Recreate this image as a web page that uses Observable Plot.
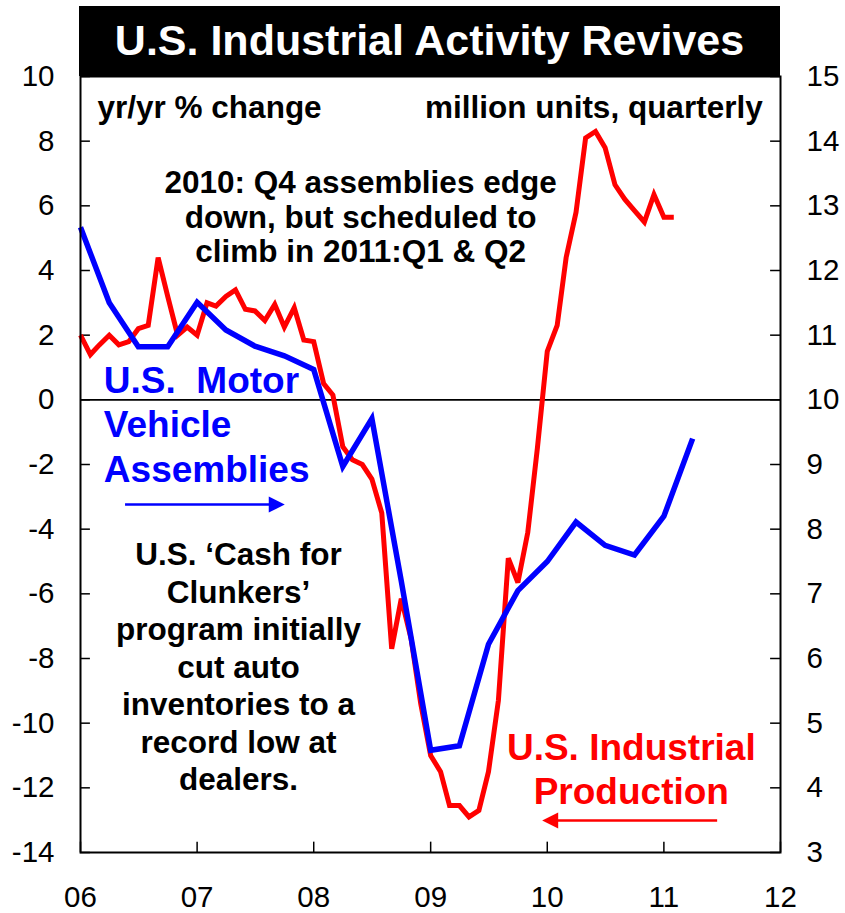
<!DOCTYPE html>
<html>
<head>
<meta charset="utf-8">
<script src="https://cdn.jsdelivr.net/npm/d3@7"></script>
<script src="https://cdn.jsdelivr.net/npm/@observablehq/plot@0.6"></script>
<style>
  body { margin: 0; background: #fff; }
  #wrap { position: relative; width: 845px; height: 913px; background: #fff; }
  #title {
    position: absolute; left: 79px; top: 6px; width: 701px; height: 70px;
    background: #000; color: #fff; text-align: center;
    font: bold 43px "Liberation Sans", Arial, Helvetica, sans-serif; line-height: 68px; z-index: 2;
  }
  #chart { position: absolute; left: 0; top: 0; }
</style>
</head>
<body>
<div id="wrap">
  <div id="chart"></div>
  <div id="title">U.S. Industrial Activity Revives</div>
</div>
<script>
// ---------- data ----------
// U.S. Industrial Production, yr/yr % change, monthly from Jan 2006 (left axis)
const ipStart = [2006, 0];
const ipValues = [
  2.0, 1.4, 1.7, 2.0, 1.7, 1.8, 2.2, 2.3, 4.4, 3.2, 2.0, 2.25,      // 2006
  2.0, 3.0, 2.9, 3.2, 3.4, 2.8, 2.75, 2.45, 2.95, 2.25, 2.85, 1.85, // 2007
  1.8, 0.5, 0.15, -1.45, -1.85, -2.0, -2.45, -3.5, -7.7, -6.15, -7.4, -9.4, // 2008
  -11.0, -11.5, -12.55, -12.55, -12.9, -12.7, -11.5, -9.3, -4.9, -5.65, -4.1, -1.5, // 2009
  1.5, 2.3, 4.4, 5.8, 8.1, 8.3, 7.8, 6.65, 6.2, 5.85, 5.5, 6.35,   // 2010
  5.65, 5.65                                                       // 2011
];
// U.S. Motor Vehicle Assemblies, million units, quarterly from 2006:Q1 (right axis)
const mvStart = [2006, 0];
const mvValues = [
  12.67, 11.5, 10.82, 10.82,   // 2006
  11.51, 11.08, 10.83, 10.68,  // 2007
  10.47, 8.97, 9.71, 7.2,      // 2008
  4.58, 4.65, 6.22, 7.05,      // 2009
  7.5, 8.11, 7.75, 7.6,        // 2010
  8.2, 9.4                     // 2011
];
const leftTicks = [-14, -12, -10, -8, -6, -4, -2, 0, 2, 4, 6, 8, 10];
const rightTicks = [3, 4, 5, 6, 7, 8, 9, 10, 11, 12, 13, 14, 15];
const yearTicks = [2006, 2007, 2008, 2009, 2010, 2011, 2012];

// ---------- helpers ----------
const D = (y, m = 0, d = 1) => new Date(Date.UTC(y, m, d));
const at = (yf) => new Date(Date.UTC(2006, 0, 1) + (yf - 2006) * 365.25 * 864e5);
const rightToLeft = (r) => (r - 10) * 2;   // right axis 3..15  ->  left axis -14..10
const fmt = (d) => (d < 0 ? "-" + (-d) : String(d));

const ip = ipValues.map((v, i) => ({date: D(ipStart[0], ipStart[1] + i), v}));
const mv = mvValues.map((v, i) => ({date: D(mvStart[0], mvStart[1] + 3 * i), v}));

// filled triangle arrowheads as custom symbols
const triRight = {draw(ctx, size) { const r = Math.sqrt(size / Math.PI); ctx.moveTo(r, 0); ctx.lineTo(-r, -r); ctx.lineTo(-r, r); ctx.closePath(); }};
const triLeft  = {draw(ctx, size) { const r = Math.sqrt(size / Math.PI); ctx.moveTo(-r, 0); ctx.lineTo(r, -r); ctx.lineTo(r, r); ctx.closePath(); }};

const FONT = "Liberation Sans, Arial, Helvetica, sans-serif";
const RED = "#ff0000", BLUE = "#0000ff";
const ANN = 31.5;

const chart = Plot.plot({
  width: 845, height: 913,
  marginLeft: 80, marginRight: 65, marginTop: 76, marginBottom: 61,
  style: {fontFamily: FONT, background: "transparent", color: "black"},
  x: {type: "utc", domain: [D(2006), D(2012)], axis: null},
  y: {domain: [-14, 10], axis: null},
  marks: [
    // zero line
    Plot.ruleY([0], {stroke: "black", strokeWidth: 1.6}),
    // inside ticks
    Plot.ruleY(leftTicks, {x1: D(2006, 0, 1), x2: D(2006, 1, 1), stroke: "black", strokeWidth: 1.5}),
    Plot.ruleY(rightTicks.map(rightToLeft), {x1: D(2011, 11, 1), x2: D(2012, 0, 1), stroke: "black", strokeWidth: 1.5}),
    Plot.ruleX(yearTicks.map(y => D(y)), {y1: -14, y2: -13.68, stroke: "black", strokeWidth: 1.5}),
    // series
    Plot.line(ip, {x: "date", y: "v", stroke: RED, strokeWidth: 5, strokeLinejoin: "miter", strokeLinecap: "butt", strokeMiterlimit: 3}),
    Plot.line(mv, {x: "date", y: d => rightToLeft(d.v), stroke: BLUE, strokeWidth: 5.5, strokeLinejoin: "miter", strokeLinecap: "butt", strokeMiterlimit: 3}),
    Plot.frame({stroke: "black", strokeWidth: 2}),
    // axes labels
    Plot.axisY(leftTicks, {anchor: "left", tickSize: 0, tickPadding: 26, fontSize: 29.5, tickFormat: fmt, label: null, fontFamily: FONT}),
    Plot.axisY(rightTicks.map(rightToLeft), {anchor: "right", tickSize: 0, tickPadding: 26, fontSize: 29.5, tickFormat: d => String(d / 2 + 10), label: null, fontFamily: FONT}),
    Plot.axisX(yearTicks.map(y => D(y)), {anchor: "bottom", tickSize: 0, tickPadding: 34, fontSize: 29.5, tickFormat: d3.utcFormat("%y"), label: null, fontFamily: FONT}),
    // unit labels
    Plot.text(["yr/yr % change"], {x: () => at(2006.146), y: () => 9.04, text: d => d, textAnchor: "start", fontSize: ANN, fontWeight: "bold", fill: "black", fontFamily: FONT}),
    Plot.text(["million units, quarterly"], {x: () => at(2011.846), y: () => 9.04, text: d => d, textAnchor: "end", fontSize: ANN, fontWeight: "bold", fill: "black", fontFamily: FONT}),
    // annotation top
    Plot.text(["2010: Q4 assemblies edge\ndown, but scheduled to\nclimb in 2011:Q1 & Q2"], {
      x: () => at(2008.4), y: () => 5.67, text: d => d, textAnchor: "middle", lineAnchor: "middle",
      lineHeight: 1.1, fontSize: ANN, fontWeight: "bold", fill: "black", fontFamily: FONT}),
    // cash for clunkers
    Plot.text(["U.S. \u2018Cash for\nClunkers\u2019\nprogram initially\ncut auto\ninventories to a\nrecord low at\ndealers."], {
      x: () => at(2007.354), y: () => -8.22, text: d => d, textAnchor: "middle", lineAnchor: "middle",
      lineHeight: 1.19, fontSize: ANN, fontWeight: "bold", fill: "black", fontFamily: FONT}),
    // series labels
    Plot.text(["U.S.\u00a0 Motor\nVehicle\nAssemblies"], {
      x: () => at(2006.2), y: () => -0.72, text: d => d, textAnchor: "start", lineAnchor: "middle",
      lineHeight: 1.2, fontSize: 37, fontWeight: "bold", fill: BLUE, fontFamily: FONT}),
    Plot.text(["U.S. Industrial\nProduction"], {
      x: () => at(2010.72), y: () => -11.38, text: d => d, textAnchor: "middle", lineAnchor: "middle",
      lineHeight: 1.19, fontSize: 37, fontWeight: "bold", fill: RED, fontFamily: FONT}),
    // arrows
    Plot.ruleY([-3.24], {x1: at(2006.386), x2: at(2007.62), stroke: BLUE, strokeWidth: 2.5}),
    Plot.dot([0], {x: () => at(2007.682), y: () => -3.24, symbol: triRight, r: 8, fill: BLUE, stroke: "none"}),
    Plot.ruleY([-13.01], {x1: at(2010.09), x2: at(2011.46), stroke: RED, strokeWidth: 2.5}),
    Plot.dot([0], {x: () => at(2010.025), y: () => -13.01, symbol: triLeft, r: 8, fill: RED, stroke: "none"})
  ]
});
document.getElementById("chart").appendChild(chart);
</script>
</body>
</html>
